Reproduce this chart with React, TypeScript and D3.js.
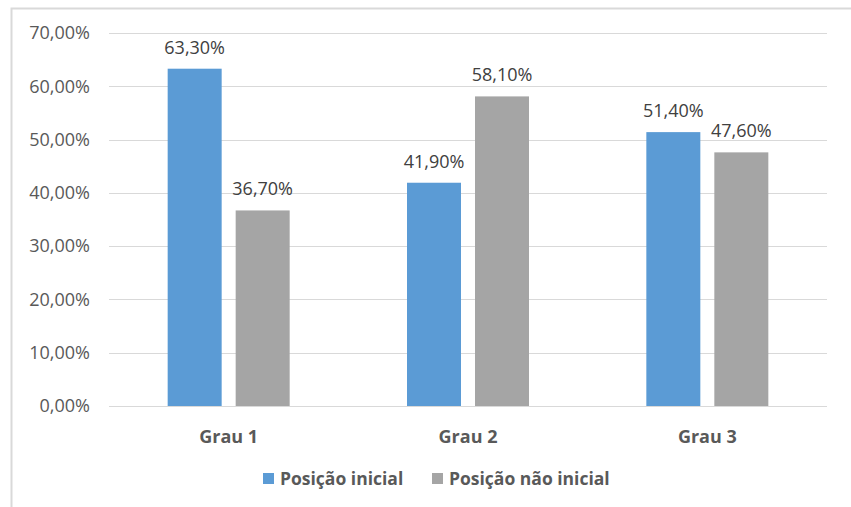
import React from "react";
import * as d3 from "d3";

const categories = ["Grau 1", "Grau 2", "Grau 3"];
const seriesNames = ["Posição inicial", "Posição não inicial"];
const inicial = [63.3, 41.9, 51.4];
const naoInicial = [36.7, 58.1, 47.6];
const yTicks = [0, 10, 20, 30, 40, 50, 60, 70];
const colors = ["#5b9bd5", "#a5a5a5"];

const W = 851;
const H = 507;
const FONT = "'Open Sans', 'Noto Sans', sans-serif";

const fmt = (v: number) => v.toFixed(2).replace(".", ",") + "%";

export default function App() {
  const x = d3.scaleBand<string>().domain(categories).range([109, 827]);
  const y = d3.scaleLinear().domain([0, 70]).range([406, 33]);
  const barW = 54;
  const gap = 14;
  const series = [inicial, naoInicial];
  const legendX = [263, 432];

  return (
    <div style={{ position: "absolute", left: 0, top: 0 }}>
      <svg width={W} height={H} style={{ display: "block", background: "#fff" }} fontFamily={FONT}>
        <rect x={11.5} y={8.5} width={W} height={H} fill="#fff" stroke="#d9d9d9" strokeWidth={2} />
        {yTicks.map((t) => (
          <g key={t}>
            <line x1={109} x2={827} y1={Math.round(y(t)) + 0.5} y2={Math.round(y(t)) + 0.5} stroke="#d9d9d9" strokeWidth={1} />
            <text x={90} y={y(t)} dy="0.35em" textAnchor="end" fontSize={18} fill="#595959">
              {fmt(t)}
            </text>
          </g>
        ))}
        {categories.map((c, i) => {
          const cx = (x(c) as number) + x.bandwidth() / 2;
          const left = cx - barW - gap / 2;
          return (
            <g key={c}>
              {series.map((s, k) => {
                const bx = left + k * (barW + gap);
                return (
                  <g key={k}>
                    <rect x={bx} y={y(s[i])} width={barW} height={y(0) - y(s[i])} fill={colors[k]} />
                    <text x={bx + barW / 2} y={y(s[i]) - 15} textAnchor="middle" fontSize={18} fill="#404040">
                      {fmt(s[i])}
                    </text>
                  </g>
                );
              })}
              <text x={cx} y={437} dy="0.35em" textAnchor="middle" fontSize={18} fontWeight="bold" fill="#595959">
                {c}
              </text>
            </g>
          );
        })}
        {seriesNames.map((n, k) => {
          const lx = legendX[k];
          return (
            <g key={n}>
              <rect x={lx} y={473} width={11} height={11} fill={colors[k]} />
              <text x={lx + 17} y={479} dy="0.35em" fontSize={17.5} fontWeight="bold" fill="#595959">
                {n}
              </text>
            </g>
          );
        })}
      </svg>
    </div>
  );
}
